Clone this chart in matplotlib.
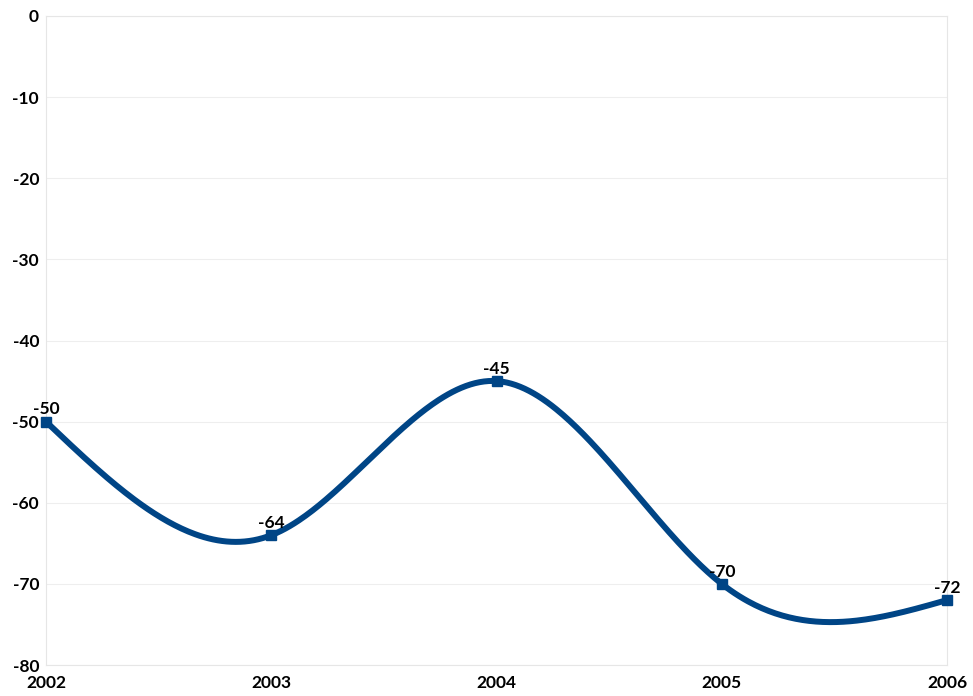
import numpy as np
import matplotlib
matplotlib.use("Agg")
import matplotlib.pyplot as plt

years = [2002, 2003, 2004, 2005, 2006]
values = [-50, -64, -45, -70, -72]
yticks = [0, -10, -20, -30, -40, -50, -60, -70, -80]

plt.rcParams['font.family'] = ['Lato', 'DejaVu Sans']
plt.rcParams['font.weight'] = 'bold'
plt.rcParams['axes.unicode_minus'] = False

# natural cubic spline, like the office chart smoothing
def natural_spline(x, y, n=400):
    x = np.asarray(x, float)
    y = np.asarray(y, float)
    k = len(x)
    h = np.diff(x)
    A = np.zeros((k, k))
    b = np.zeros(k)
    A[0, 0] = 1
    A[-1, -1] = 1
    for i in range(1, k - 1):
        A[i, i - 1] = h[i - 1]
        A[i, i] = 2 * (h[i - 1] + h[i])
        A[i, i + 1] = h[i]
        b[i] = 6 * ((y[i + 1] - y[i]) / h[i] - (y[i] - y[i - 1]) / h[i - 1])
    M = np.linalg.solve(A, b)
    xs = np.linspace(x[0], x[-1], n)
    ys = np.empty_like(xs)
    for j, xv in enumerate(xs):
        i = min(np.searchsorted(x, xv, side='right') - 1, k - 2)
        t0 = x[i + 1] - xv
        t1 = xv - x[i]
        ys[j] = (M[i] * t0**3 / (6 * h[i]) + M[i + 1] * t1**3 / (6 * h[i])
                 + (y[i] / h[i] - M[i] * h[i] / 6) * t0
                 + (y[i + 1] / h[i] - M[i + 1] * h[i] / 6) * t1)
    return xs, ys

fig = plt.figure(figsize=(9.73, 6.96), dpi=100)
ax = fig.add_axes([46 / 973, 1 - 665 / 696, (947 - 46) / 973, (665 - 16) / 696])

color = '#004586'
xs, ys = natural_spline(years, values)
ax.plot(xs, ys, color=color, lw=4.3, solid_capstyle='butt', clip_on=False, zorder=3)
ax.plot(years, values, 's', color=color, ms=7, clip_on=False, zorder=4)

for x, v in zip(years, values):
    ax.annotate(str(v), (x, v), xytext=(0, 3), textcoords='offset points',
                ha='center', va='bottom', fontsize=12.5, fontweight='bold',
                annotation_clip=False, zorder=5)

ax.set_xlim(2002, 2006)
ax.set_ylim(-80, 0)
ax.set_xticks(years)
ax.set_yticks(yticks)
ax.tick_params(axis='y', length=0, labelsize=12.5, pad=5)
ax.tick_params(axis='x', length=0, labelsize=12.5, pad=7)
for lab in ax.get_xticklabels() + ax.get_yticklabels():
    lab.set_fontweight('bold')
ax.grid(axis='y', color='#eeeeee', lw=0.8)
for s in ax.spines.values():
    s.set_color('#e6e6e6')
    s.set_linewidth(0.8)

fig.savefig('out.png', dpi=100)
